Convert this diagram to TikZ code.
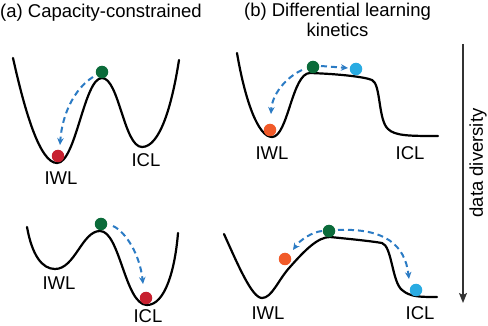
\documentclass[tikz,border=0pt]{standalone}
\usepackage{fontspec}
\setmainfont{Liberation Sans}
\usetikzlibrary{arrows.meta}
\definecolor{dgreen}{HTML}{0B6B3A}
\definecolor{dred}{HTML}{C7202F}
\definecolor{dorange}{HTML}{F15A29}
\definecolor{lblue}{HTML}{29ABE2}
\definecolor{ablue}{HTML}{2B7BC4}
\definecolor{axgray}{HTML}{333333}
\tikzset{
  land/.style={line width=2.2pt, black, line join=round, line cap=round},
  ball/.style={circle, minimum size=12.5pt, inner sep=0pt, draw=none},
  move/.style={ablue, line width=2pt, dash pattern=on 6pt off 4pt, -{Stealth[length=7pt,width=6.5pt]}},
  lab/.style={inner sep=0pt, font=\fontsize{18.5}{20}\selectfont},
}
\begin{document}
\begin{tikzpicture}[x=1pt,y=-1pt]
\useasboundingbox (0,0) rectangle (488,326);
% titles
\node[lab, anchor=base west] (ta) at (0,17.5) {(a) Capacity-constrained};
\node[lab, anchor=base, align=center] (tb) at (337.5,37) {(b) Differential learning\\kinetics};

% panel a top
\draw[land] (13,58) .. controls (25,112) and (40,163) .. (57,163)
  .. controls (76,163) and (84,78) .. (102,78)
  .. controls (119,78) and (124,147) .. (142,147)
  .. controls (160,147) and (172,105) .. (179,60);
\node[ball, fill=dgreen] (g1) at (102,72) {};
\node[ball, fill=dred] (r1) at (58,156) {};
\coordinate (s1) at (93,77);
\coordinate (e1) at (60,145);
\draw[move] (s1) .. controls (74,89) and (62,115) .. (e1);
\node[lab] (iwl1) at (61,178) {IWL};
\node[lab] (icl1) at (146,160) {ICL};

% panel a bottom
\draw[land] (27,227) .. controls (32,255) and (42,269) .. (55,269)
  .. controls (75,269) and (82,231) .. (100,231)
  .. controls (120,231) and (125,305) .. (147,305)
  .. controls (165,305) and (175,270) .. (178,233);
\node[ball, fill=dgreen] (g2) at (101,224) {};
\node[ball, fill=dred] (r2) at (146,298) {};
\coordinate (s2) at (113,226);
\coordinate (e2) at (143,284);
\draw[move] (s2) .. controls (126,232) and (140,255) .. (e2);
\node[lab] (iwl2) at (59,283) {IWL};
\node[lab] (icl2) at (148,316.5) {ICL};

% panel b top
\draw[land] (237,53) .. controls (245,100) and (258,137) .. (272,137)
  .. controls (288,137) and (292,73) .. (310,73)
  .. controls (340,74) and (365,77) .. (372,80)
  .. controls (381,84) and (378,120) .. (388,129)
  .. controls (395,136) and (410,136) .. (438,136);
\node[ball, fill=dgreen] (g3) at (313,67) {};
\node[ball, fill=lblue] (b3) at (356,69) {};
\node[ball, fill=dorange] (o3) at (270,130) {};
\coordinate (s3) at (302,70);
\coordinate (e3) at (271,114);
\draw[move] (s3) .. controls (285,78) and (272,95) .. (e3);
\coordinate (s3b) at (321,66);
\coordinate (e3b) at (348,68);
\draw[move] (s3b) -- (e3b);
\node[lab] (iwl3) at (272,153) {IWL};
\node[lab] (icl3) at (410,153) {ICL};

% panel b bottom
\draw[land] (224,234) .. controls (238,265) and (252,298) .. (262,298)
  .. controls (272,298) and (278,280) .. (290,267)
  .. controls (305,250) and (318,237) .. (330,237)
  .. controls (350,239) and (370,241) .. (382,243)
  .. controls (392,246) and (392,282) .. (402,290)
  .. controls (410,297) and (420,297) .. (437,297);
\node[ball, fill=dgreen] (g4) at (329,231) {};
\node[ball, fill=dorange] (o4) at (285,259) {};
\node[ball, fill=lblue] (b4) at (416,290) {};
\coordinate (s4) at (322,231);
\coordinate (e4) at (293,250);
\draw[move] (s4) .. controls (312,232) and (300,240) .. (e4);
\coordinate (s4b) at (338,230);
\coordinate (e4b) at (409,279);
\draw[move] (s4b) .. controls (385,228) and (405,245) .. (e4b);
\node[lab] (iwl4) at (268,313) {IWL};
\node[lab] (icl4) at (420,313) {ICL};

% data diversity axis
\coordinate (ax0) at (463,44);
\coordinate (ax1) at (463,303);
\draw[axgray, line width=1.3pt, -{Stealth[length=10pt,width=8pt,inset=2pt]}] (ax0) -- (ax1);
\node[lab, rotate=90] (dd) at (478,163) {data diversity};
\end{tikzpicture}
\end{document}
